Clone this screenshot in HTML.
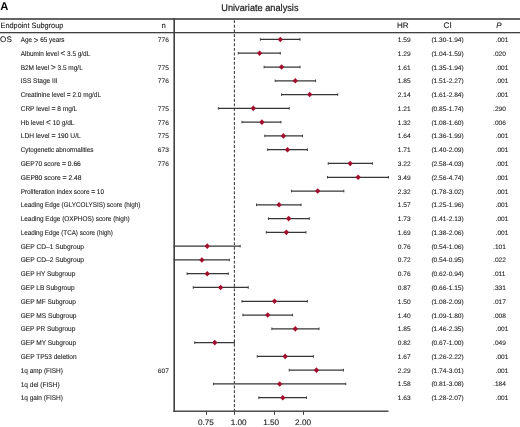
<!DOCTYPE html><html><head><meta charset="utf-8"><style>html,body{margin:0;padding:0;background:#fff;}svg{display:block;will-change:transform;}text{font-family:"Liberation Sans",sans-serif;text-rendering:geometricPrecision;}</style></head><body>
<svg width="520" height="427" viewBox="0 0 520 427">
<text x="0.2" y="9.9" font-size="11.2" font-weight="bold" fill="#000">A</text>
<text x="221.3" y="10.5" font-size="9.8" fill="#1a1a1a" stroke="#1a1a1a" stroke-width="0.2" textLength="77.2" lengthAdjust="spacingAndGlyphs">Univariate analysis</text>
<rect x="0" y="18.2" width="520" height="1.6" fill="#404040"/>
<rect x="0" y="32.0" width="520" height="1.3" fill="#404040"/>
<text x="0.5" y="28" font-size="7.7" fill="#222" stroke="#222" stroke-width="0.12" textLength="62.8" lengthAdjust="spacingAndGlyphs">Endpoint Subgroup</text>
<text x="161.4" y="28" font-size="7.7" fill="#222" stroke="#222" stroke-width="0.12">n</text>
<text x="397.0" y="28" font-size="8" fill="#222" stroke="#222" stroke-width="0.12">HR</text>
<text x="443.5" y="28" font-size="8.2" fill="#222" stroke="#222" stroke-width="0.12">CI</text>
<text x="496.3" y="28" font-size="8" font-style="italic" fill="#222" stroke="#222" stroke-width="0.12">P</text>
<text x="0.1" y="41.8" font-size="8.1" fill="#222" stroke="#222" stroke-width="0.12">OS</text>
<rect x="173.39999999999998" y="18.2" width="1.6" height="393.8" fill="#404040"/>
<line x1="234.4" y1="20.2" x2="234.4" y2="411.2" stroke="#404040" stroke-width="1.1" stroke-dasharray="2.8 1.825"/>
<rect x="173.39999999999998" y="410.5" width="215.10000000000002" height="1.4" fill="#404040"/>
<rect x="206" y="411.2" width="1" height="3.6" fill="#404040"/>
<text x="197.89999999999998" y="424.8" font-size="8" fill="#222" stroke="#222" stroke-width="0.12" textLength="16" lengthAdjust="spacingAndGlyphs">0.75</text>
<rect x="234" y="411.2" width="1" height="3.6" fill="#404040"/>
<text x="230.7" y="424.8" font-size="8" fill="#222" stroke="#222" stroke-width="0.12" textLength="16" lengthAdjust="spacingAndGlyphs">1.00</text>
<rect x="274" y="411.2" width="1" height="3.6" fill="#404040"/>
<text x="263.2" y="424.8" font-size="8" fill="#222" stroke="#222" stroke-width="0.12" textLength="16" lengthAdjust="spacingAndGlyphs">1.50</text>
<rect x="303" y="411.2" width="1" height="3.6" fill="#404040"/>
<text x="295.09999999999997" y="424.8" font-size="8" fill="#222" stroke="#222" stroke-width="0.12" textLength="16" lengthAdjust="spacingAndGlyphs">2.00</text>
<text x="20.7" y="42.00" font-size="6.9" fill="#222222" stroke="#222222" stroke-width="0.1" textLength="43.84" lengthAdjust="spacingAndGlyphs">Age <tspan font-size="8.6" dy="0.6">&gt;</tspan><tspan dy="-0.6"> 65 years</tspan></text>
<text x="168.9" y="41.95" font-size="6.4" fill="#222222" stroke="#222222" stroke-width="0.08" text-anchor="end" textLength="11.01" lengthAdjust="spacingAndGlyphs">776</text>
<text x="397.8" y="41.95" font-size="6.4" fill="#222222" stroke="#222222" stroke-width="0.08" text-anchor="start" textLength="12.84" lengthAdjust="spacingAndGlyphs">1.59</text>
<text x="431.4" y="41.95" font-size="6.4" fill="#222222" stroke="#222222" stroke-width="0.08" text-anchor="start" textLength="32.28" lengthAdjust="spacingAndGlyphs">(1.30-1.94)</text>
<text x="495.6" y="41.95" font-size="6.4" fill="#222222" stroke="#222222" stroke-width="0.08" text-anchor="start" textLength="12.84" lengthAdjust="spacingAndGlyphs">.001</text>
<line x1="260.37" y1="39.45" x2="300.01" y2="39.45" stroke="#363636" stroke-width="1.25"/>
<line x1="260.37" y1="38.15" x2="260.37" y2="40.75" stroke="#404040" stroke-width="1"/>
<line x1="300.01" y1="38.15" x2="300.01" y2="40.75" stroke="#404040" stroke-width="1"/>
<path d="M277.61 39.45 L280.31 36.65 L283.01 39.45 L280.31 42.25 Z" fill="#a3102f"/>
<text x="20.7" y="55.78" font-size="6.9" fill="#222222" stroke="#222222" stroke-width="0.1" textLength="69.56" lengthAdjust="spacingAndGlyphs">Albumin level <tspan font-size="8.6" dy="0.6">&lt;</tspan><tspan dy="-0.6"> 3.5 g/dL</tspan></text>
<text x="397.8" y="55.73" font-size="6.4" fill="#222222" stroke="#222222" stroke-width="0.08" text-anchor="start" textLength="12.84" lengthAdjust="spacingAndGlyphs">1.29</text>
<text x="431.4" y="55.73" font-size="6.4" fill="#222222" stroke="#222222" stroke-width="0.08" text-anchor="start" textLength="32.28" lengthAdjust="spacingAndGlyphs">(1.04-1.59)</text>
<text x="493.1" y="55.73" font-size="6.4" fill="#222222" stroke="#222222" stroke-width="0.08" text-anchor="start" textLength="12.84" lengthAdjust="spacingAndGlyphs">.020</text>
<line x1="238.28" y1="53.23" x2="280.31" y2="53.23" stroke="#363636" stroke-width="1.25"/>
<line x1="238.28" y1="51.93" x2="238.28" y2="54.53" stroke="#404040" stroke-width="1"/>
<line x1="280.31" y1="51.93" x2="280.31" y2="54.53" stroke="#404040" stroke-width="1"/>
<path d="M256.91 53.23 L259.61 50.43 L262.31 53.23 L259.61 56.03 Z" fill="#a3102f"/>
<text x="20.7" y="69.56" font-size="6.9" fill="#222222" stroke="#222222" stroke-width="0.1" textLength="62.07" lengthAdjust="spacingAndGlyphs">B2M level <tspan font-size="8.6" dy="0.6">&gt;</tspan><tspan dy="-0.6"> 3.5 mg/L</tspan></text>
<text x="168.9" y="69.51" font-size="6.4" fill="#222222" stroke="#222222" stroke-width="0.08" text-anchor="end" textLength="11.01" lengthAdjust="spacingAndGlyphs">775</text>
<text x="397.8" y="69.51" font-size="6.4" fill="#222222" stroke="#222222" stroke-width="0.08" text-anchor="start" textLength="12.84" lengthAdjust="spacingAndGlyphs">1.61</text>
<text x="431.4" y="69.51" font-size="6.4" fill="#222222" stroke="#222222" stroke-width="0.08" text-anchor="start" textLength="32.28" lengthAdjust="spacingAndGlyphs">(1.35-1.94)</text>
<text x="495.6" y="69.51" font-size="6.4" fill="#222222" stroke="#222222" stroke-width="0.08" text-anchor="start" textLength="12.84" lengthAdjust="spacingAndGlyphs">.001</text>
<line x1="264.11" y1="67.01" x2="300.01" y2="67.01" stroke="#363636" stroke-width="1.25"/>
<line x1="264.11" y1="65.71" x2="264.11" y2="68.31" stroke="#404040" stroke-width="1"/>
<line x1="300.01" y1="65.71" x2="300.01" y2="68.31" stroke="#404040" stroke-width="1"/>
<path d="M278.85 67.01 L281.55 64.21 L284.25 67.01 L281.55 69.81 Z" fill="#a3102f"/>
<text x="20.7" y="83.34" font-size="6.9" fill="#222222" stroke="#222222" stroke-width="0.1" textLength="36.85" lengthAdjust="spacingAndGlyphs">ISS Stage III</text>
<text x="168.9" y="83.29" font-size="6.4" fill="#222222" stroke="#222222" stroke-width="0.08" text-anchor="end" textLength="11.01" lengthAdjust="spacingAndGlyphs">776</text>
<text x="397.8" y="83.29" font-size="6.4" fill="#222222" stroke="#222222" stroke-width="0.08" text-anchor="start" textLength="12.84" lengthAdjust="spacingAndGlyphs">1.85</text>
<text x="431.4" y="83.29" font-size="6.4" fill="#222222" stroke="#222222" stroke-width="0.08" text-anchor="start" textLength="32.28" lengthAdjust="spacingAndGlyphs">(1.51-2.27)</text>
<text x="495.6" y="83.29" font-size="6.4" fill="#222222" stroke="#222222" stroke-width="0.08" text-anchor="start" textLength="12.84" lengthAdjust="spacingAndGlyphs">.001</text>
<line x1="275.20" y1="80.79" x2="315.56" y2="80.79" stroke="#363636" stroke-width="1.25"/>
<line x1="275.20" y1="79.49" x2="275.20" y2="82.09" stroke="#404040" stroke-width="1"/>
<line x1="315.56" y1="79.49" x2="315.56" y2="82.09" stroke="#404040" stroke-width="1"/>
<path d="M292.60 80.79 L295.30 77.99 L298.00 80.79 L295.30 83.59 Z" fill="#a3102f"/>
<text x="20.7" y="97.12" font-size="6.9" fill="#222222" stroke="#222222" stroke-width="0.1" textLength="80.30" lengthAdjust="spacingAndGlyphs">Creatinine level <tspan font-size="7.2" font-weight="bold">=</tspan> 2.0 mg/dL</text>
<text x="397.8" y="97.07" font-size="6.4" fill="#222222" stroke="#222222" stroke-width="0.08" text-anchor="start" textLength="12.84" lengthAdjust="spacingAndGlyphs">2.14</text>
<text x="431.4" y="97.07" font-size="6.4" fill="#222222" stroke="#222222" stroke-width="0.08" text-anchor="start" textLength="32.28" lengthAdjust="spacingAndGlyphs">(1.61-2.84)</text>
<text x="495.6" y="97.07" font-size="6.4" fill="#222222" stroke="#222222" stroke-width="0.08" text-anchor="start" textLength="12.84" lengthAdjust="spacingAndGlyphs">.001</text>
<line x1="281.55" y1="94.57" x2="337.74" y2="94.57" stroke="#363636" stroke-width="1.25"/>
<line x1="281.55" y1="93.27" x2="281.55" y2="95.87" stroke="#404040" stroke-width="1"/>
<line x1="337.74" y1="93.27" x2="337.74" y2="95.87" stroke="#404040" stroke-width="1"/>
<path d="M307.02 94.57 L309.72 91.77 L312.42 94.57 L309.72 97.37 Z" fill="#a3102f"/>
<text x="20.7" y="110.90" font-size="6.9" fill="#222222" stroke="#222222" stroke-width="0.1" textLength="56.52" lengthAdjust="spacingAndGlyphs">CRP level <tspan font-size="7.2" font-weight="bold">=</tspan> 8 mg/L</text>
<text x="168.9" y="110.85" font-size="6.4" fill="#222222" stroke="#222222" stroke-width="0.08" text-anchor="end" textLength="11.01" lengthAdjust="spacingAndGlyphs">775</text>
<text x="397.8" y="110.85" font-size="6.4" fill="#222222" stroke="#222222" stroke-width="0.08" text-anchor="start" textLength="12.84" lengthAdjust="spacingAndGlyphs">1.21</text>
<text x="431.4" y="110.85" font-size="6.4" fill="#222222" stroke="#222222" stroke-width="0.08" text-anchor="start" textLength="32.28" lengthAdjust="spacingAndGlyphs">(0.85-1.74)</text>
<text x="493.1" y="110.85" font-size="6.4" fill="#222222" stroke="#222222" stroke-width="0.08" text-anchor="start" textLength="12.84" lengthAdjust="spacingAndGlyphs">.290</text>
<line x1="218.31" y1="108.35" x2="289.23" y2="108.35" stroke="#363636" stroke-width="1.25"/>
<line x1="218.31" y1="107.05" x2="218.31" y2="109.65" stroke="#404040" stroke-width="1"/>
<line x1="289.23" y1="107.05" x2="289.23" y2="109.65" stroke="#404040" stroke-width="1"/>
<path d="M250.57 108.35 L253.27 105.55 L255.97 108.35 L253.27 111.15 Z" fill="#a3102f"/>
<text x="20.7" y="124.68" font-size="6.9" fill="#222222" stroke="#222222" stroke-width="0.1" textLength="53.81" lengthAdjust="spacingAndGlyphs">Hb level <tspan font-size="8.6" dy="0.6">&lt;</tspan><tspan dy="-0.6"> 10 g/dL</tspan></text>
<text x="168.9" y="124.63" font-size="6.4" fill="#222222" stroke="#222222" stroke-width="0.08" text-anchor="end" textLength="11.01" lengthAdjust="spacingAndGlyphs">776</text>
<text x="397.8" y="124.63" font-size="6.4" fill="#222222" stroke="#222222" stroke-width="0.08" text-anchor="start" textLength="12.84" lengthAdjust="spacingAndGlyphs">1.32</text>
<text x="431.4" y="124.63" font-size="6.4" fill="#222222" stroke="#222222" stroke-width="0.08" text-anchor="start" textLength="32.28" lengthAdjust="spacingAndGlyphs">(1.08-1.60)</text>
<text x="493.1" y="124.63" font-size="6.4" fill="#222222" stroke="#222222" stroke-width="0.08" text-anchor="start" textLength="12.84" lengthAdjust="spacingAndGlyphs">.006</text>
<line x1="242.02" y1="122.13" x2="280.93" y2="122.13" stroke="#363636" stroke-width="1.25"/>
<line x1="242.02" y1="120.83" x2="242.02" y2="123.43" stroke="#404040" stroke-width="1"/>
<line x1="280.93" y1="120.83" x2="280.93" y2="123.43" stroke="#404040" stroke-width="1"/>
<path d="M259.19 122.13 L261.89 119.33 L264.59 122.13 L261.89 124.93 Z" fill="#a3102f"/>
<text x="20.7" y="138.46" font-size="6.9" fill="#222222" stroke="#222222" stroke-width="0.1" textLength="60.05" lengthAdjust="spacingAndGlyphs">LDH level <tspan font-size="7.2" font-weight="bold">=</tspan> 190 U/L</text>
<text x="168.9" y="138.41" font-size="6.4" fill="#222222" stroke="#222222" stroke-width="0.08" text-anchor="end" textLength="11.01" lengthAdjust="spacingAndGlyphs">775</text>
<text x="397.8" y="138.41" font-size="6.4" fill="#222222" stroke="#222222" stroke-width="0.08" text-anchor="start" textLength="12.84" lengthAdjust="spacingAndGlyphs">1.64</text>
<text x="431.4" y="138.41" font-size="6.4" fill="#222222" stroke="#222222" stroke-width="0.08" text-anchor="start" textLength="32.28" lengthAdjust="spacingAndGlyphs">(1.36-1.99)</text>
<text x="495.6" y="138.41" font-size="6.4" fill="#222222" stroke="#222222" stroke-width="0.08" text-anchor="start" textLength="12.84" lengthAdjust="spacingAndGlyphs">.001</text>
<line x1="264.84" y1="135.91" x2="302.53" y2="135.91" stroke="#363636" stroke-width="1.25"/>
<line x1="264.84" y1="134.61" x2="264.84" y2="137.21" stroke="#404040" stroke-width="1"/>
<line x1="302.53" y1="134.61" x2="302.53" y2="137.21" stroke="#404040" stroke-width="1"/>
<path d="M280.67 135.91 L283.37 133.11 L286.07 135.91 L283.37 138.71 Z" fill="#a3102f"/>
<text x="20.7" y="152.24" font-size="6.9" fill="#222222" stroke="#222222" stroke-width="0.1" textLength="72.77" lengthAdjust="spacingAndGlyphs">Cytogenetic abnormalities</text>
<text x="168.9" y="152.19" font-size="6.4" fill="#222222" stroke="#222222" stroke-width="0.08" text-anchor="end" textLength="11.01" lengthAdjust="spacingAndGlyphs">673</text>
<text x="397.8" y="152.19" font-size="6.4" fill="#222222" stroke="#222222" stroke-width="0.08" text-anchor="start" textLength="12.84" lengthAdjust="spacingAndGlyphs">1.71</text>
<text x="431.4" y="152.19" font-size="6.4" fill="#222222" stroke="#222222" stroke-width="0.08" text-anchor="start" textLength="32.28" lengthAdjust="spacingAndGlyphs">(1.40-2.09)</text>
<text x="495.6" y="152.19" font-size="6.4" fill="#222222" stroke="#222222" stroke-width="0.08" text-anchor="start" textLength="12.84" lengthAdjust="spacingAndGlyphs">.001</text>
<line x1="267.71" y1="149.69" x2="307.38" y2="149.69" stroke="#363636" stroke-width="1.25"/>
<line x1="267.71" y1="148.39" x2="267.71" y2="150.99" stroke="#404040" stroke-width="1"/>
<line x1="307.38" y1="148.39" x2="307.38" y2="150.99" stroke="#404040" stroke-width="1"/>
<path d="M284.81 149.69 L287.51 146.89 L290.21 149.69 L287.51 152.49 Z" fill="#a3102f"/>
<text x="20.7" y="166.02" font-size="6.9" fill="#222222" stroke="#222222" stroke-width="0.1" textLength="60.08" lengthAdjust="spacingAndGlyphs">GEP70 score <tspan font-size="7.2" font-weight="bold">=</tspan> 0.66</text>
<text x="168.9" y="165.97" font-size="6.4" fill="#222222" stroke="#222222" stroke-width="0.08" text-anchor="end" textLength="11.01" lengthAdjust="spacingAndGlyphs">776</text>
<text x="397.8" y="165.97" font-size="6.4" fill="#222222" stroke="#222222" stroke-width="0.08" text-anchor="start" textLength="12.84" lengthAdjust="spacingAndGlyphs">3.22</text>
<text x="431.4" y="165.97" font-size="6.4" fill="#222222" stroke="#222222" stroke-width="0.08" text-anchor="start" textLength="32.28" lengthAdjust="spacingAndGlyphs">(2.58-4.03)</text>
<text x="495.6" y="165.97" font-size="6.4" fill="#222222" stroke="#222222" stroke-width="0.08" text-anchor="start" textLength="12.84" lengthAdjust="spacingAndGlyphs">.001</text>
<line x1="328.23" y1="163.47" x2="372.38" y2="163.47" stroke="#363636" stroke-width="1.25"/>
<line x1="328.23" y1="162.17" x2="328.23" y2="164.77" stroke="#404040" stroke-width="1"/>
<line x1="372.38" y1="162.17" x2="372.38" y2="164.77" stroke="#404040" stroke-width="1"/>
<path d="M347.47 163.47 L350.17 160.67 L352.87 163.47 L350.17 166.27 Z" fill="#a3102f"/>
<text x="20.7" y="179.80" font-size="6.9" fill="#222222" stroke="#222222" stroke-width="0.1" textLength="60.84" lengthAdjust="spacingAndGlyphs">GEP80 score <tspan font-size="7.2" font-weight="bold">=</tspan> 2.48</text>
<text x="397.8" y="179.75" font-size="6.4" fill="#222222" stroke="#222222" stroke-width="0.08" text-anchor="start" textLength="12.84" lengthAdjust="spacingAndGlyphs">3.49</text>
<text x="431.4" y="179.75" font-size="6.4" fill="#222222" stroke="#222222" stroke-width="0.08" text-anchor="start" textLength="32.28" lengthAdjust="spacingAndGlyphs">(2.56-4.74)</text>
<text x="495.6" y="179.75" font-size="6.4" fill="#222222" stroke="#222222" stroke-width="0.08" text-anchor="start" textLength="12.84" lengthAdjust="spacingAndGlyphs">.001</text>
<line x1="327.46" y1="177.25" x2="388.45" y2="177.25" stroke="#363636" stroke-width="1.25"/>
<line x1="327.46" y1="175.95" x2="327.46" y2="178.55" stroke="#404040" stroke-width="1"/>
<line x1="388.45" y1="175.95" x2="388.45" y2="178.55" stroke="#404040" stroke-width="1"/>
<path d="M355.44 177.25 L358.14 174.45 L360.84 177.25 L358.14 180.05 Z" fill="#a3102f"/>
<text x="20.7" y="193.58" font-size="6.9" fill="#222222" stroke="#222222" stroke-width="0.1" textLength="83.27" lengthAdjust="spacingAndGlyphs">Proliferation Index score <tspan font-size="7.2" font-weight="bold">=</tspan> 10</text>
<text x="397.8" y="193.53" font-size="6.4" fill="#222222" stroke="#222222" stroke-width="0.08" text-anchor="start" textLength="12.84" lengthAdjust="spacingAndGlyphs">2.32</text>
<text x="431.4" y="193.53" font-size="6.4" fill="#222222" stroke="#222222" stroke-width="0.08" text-anchor="start" textLength="32.28" lengthAdjust="spacingAndGlyphs">(1.78-3.02)</text>
<text x="495.6" y="193.53" font-size="6.4" fill="#222222" stroke="#222222" stroke-width="0.08" text-anchor="start" textLength="12.84" lengthAdjust="spacingAndGlyphs">.001</text>
<line x1="291.48" y1="191.03" x2="343.82" y2="191.03" stroke="#363636" stroke-width="1.25"/>
<line x1="291.48" y1="189.73" x2="291.48" y2="192.33" stroke="#404040" stroke-width="1"/>
<line x1="343.82" y1="189.73" x2="343.82" y2="192.33" stroke="#404040" stroke-width="1"/>
<path d="M315.02 191.03 L317.72 188.23 L320.42 191.03 L317.72 193.83 Z" fill="#a3102f"/>
<text x="20.7" y="207.36" font-size="6.9" fill="#222222" stroke="#222222" stroke-width="0.1" textLength="119.68" lengthAdjust="spacingAndGlyphs">Leading Edge (GLYCOLYSIS) score (high)</text>
<text x="397.8" y="207.31" font-size="6.4" fill="#222222" stroke="#222222" stroke-width="0.08" text-anchor="start" textLength="12.84" lengthAdjust="spacingAndGlyphs">1.57</text>
<text x="431.4" y="207.31" font-size="6.4" fill="#222222" stroke="#222222" stroke-width="0.08" text-anchor="start" textLength="32.28" lengthAdjust="spacingAndGlyphs">(1.25-1.96)</text>
<text x="495.6" y="207.31" font-size="6.4" fill="#222222" stroke="#222222" stroke-width="0.08" text-anchor="start" textLength="12.84" lengthAdjust="spacingAndGlyphs">.001</text>
<line x1="256.49" y1="204.81" x2="301.02" y2="204.81" stroke="#363636" stroke-width="1.25"/>
<line x1="256.49" y1="203.51" x2="256.49" y2="206.11" stroke="#404040" stroke-width="1"/>
<line x1="301.02" y1="203.51" x2="301.02" y2="206.11" stroke="#404040" stroke-width="1"/>
<path d="M276.36 204.81 L279.06 202.01 L281.76 204.81 L279.06 207.61 Z" fill="#a3102f"/>
<text x="20.7" y="221.14" font-size="6.9" fill="#222222" stroke="#222222" stroke-width="0.1" textLength="108.95" lengthAdjust="spacingAndGlyphs">Leading Edge (OXPHOS) score (high)</text>
<text x="397.8" y="221.09" font-size="6.4" fill="#222222" stroke="#222222" stroke-width="0.08" text-anchor="start" textLength="12.84" lengthAdjust="spacingAndGlyphs">1.73</text>
<text x="431.4" y="221.09" font-size="6.4" fill="#222222" stroke="#222222" stroke-width="0.08" text-anchor="start" textLength="32.28" lengthAdjust="spacingAndGlyphs">(1.41-2.13)</text>
<text x="495.6" y="221.09" font-size="6.4" fill="#222222" stroke="#222222" stroke-width="0.08" text-anchor="start" textLength="12.84" lengthAdjust="spacingAndGlyphs">.001</text>
<line x1="268.42" y1="218.59" x2="309.26" y2="218.59" stroke="#363636" stroke-width="1.25"/>
<line x1="268.42" y1="217.29" x2="268.42" y2="219.89" stroke="#404040" stroke-width="1"/>
<line x1="309.26" y1="217.29" x2="309.26" y2="219.89" stroke="#404040" stroke-width="1"/>
<path d="M285.96 218.59 L288.66 215.79 L291.36 218.59 L288.66 221.39 Z" fill="#a3102f"/>
<text x="20.7" y="234.92" font-size="6.9" fill="#222222" stroke="#222222" stroke-width="0.1" textLength="92.19" lengthAdjust="spacingAndGlyphs">Leading Edge (TCA) score (high)</text>
<text x="397.8" y="234.87" font-size="6.4" fill="#222222" stroke="#222222" stroke-width="0.08" text-anchor="start" textLength="12.84" lengthAdjust="spacingAndGlyphs">1.69</text>
<text x="431.4" y="234.87" font-size="6.4" fill="#222222" stroke="#222222" stroke-width="0.08" text-anchor="start" textLength="32.28" lengthAdjust="spacingAndGlyphs">(1.38-2.06)</text>
<text x="495.6" y="234.87" font-size="6.4" fill="#222222" stroke="#222222" stroke-width="0.08" text-anchor="start" textLength="12.84" lengthAdjust="spacingAndGlyphs">.001</text>
<line x1="266.29" y1="232.37" x2="305.95" y2="232.37" stroke="#363636" stroke-width="1.25"/>
<line x1="266.29" y1="231.07" x2="266.29" y2="233.67" stroke="#404040" stroke-width="1"/>
<line x1="305.95" y1="231.07" x2="305.95" y2="233.67" stroke="#404040" stroke-width="1"/>
<path d="M283.65 232.37 L286.35 229.57 L289.05 232.37 L286.35 235.17 Z" fill="#a3102f"/>
<text x="20.7" y="248.70" font-size="6.9" fill="#222222" stroke="#222222" stroke-width="0.1" textLength="63.33" lengthAdjust="spacingAndGlyphs">GEP CD–1 Subgroup</text>
<text x="397.8" y="248.65" font-size="6.4" fill="#222222" stroke="#222222" stroke-width="0.08" text-anchor="start" textLength="12.84" lengthAdjust="spacingAndGlyphs">0.76</text>
<text x="431.4" y="248.65" font-size="6.4" fill="#222222" stroke="#222222" stroke-width="0.08" text-anchor="start" textLength="32.28" lengthAdjust="spacingAndGlyphs">(0.54-1.06)</text>
<text x="493.1" y="248.65" font-size="6.4" fill="#222222" stroke="#222222" stroke-width="0.08" text-anchor="start" textLength="12.84" lengthAdjust="spacingAndGlyphs">.101</text>
<line x1="174.20" y1="246.15" x2="240.17" y2="246.15" stroke="#363636" stroke-width="1.25"/>
<line x1="174.20" y1="244.85" x2="174.20" y2="247.45" stroke="#404040" stroke-width="1"/>
<line x1="240.17" y1="244.85" x2="240.17" y2="247.45" stroke="#404040" stroke-width="1"/>
<path d="M204.53 246.15 L207.23 243.35 L209.93 246.15 L207.23 248.95 Z" fill="#a3102f"/>
<text x="20.7" y="262.48" font-size="6.9" fill="#222222" stroke="#222222" stroke-width="0.1" textLength="63.33" lengthAdjust="spacingAndGlyphs">GEP CD–2 Subgroup</text>
<text x="397.8" y="262.43" font-size="6.4" fill="#222222" stroke="#222222" stroke-width="0.08" text-anchor="start" textLength="12.84" lengthAdjust="spacingAndGlyphs">0.72</text>
<text x="431.4" y="262.43" font-size="6.4" fill="#222222" stroke="#222222" stroke-width="0.08" text-anchor="start" textLength="32.28" lengthAdjust="spacingAndGlyphs">(0.54-0.95)</text>
<text x="493.1" y="262.43" font-size="6.4" fill="#222222" stroke="#222222" stroke-width="0.08" text-anchor="start" textLength="12.84" lengthAdjust="spacingAndGlyphs">.022</text>
<line x1="174.20" y1="259.93" x2="229.32" y2="259.93" stroke="#363636" stroke-width="1.25"/>
<line x1="174.20" y1="258.63" x2="174.20" y2="261.23" stroke="#404040" stroke-width="1"/>
<line x1="229.32" y1="258.63" x2="229.32" y2="261.23" stroke="#404040" stroke-width="1"/>
<path d="M199.18 259.93 L201.88 257.13 L204.58 259.93 L201.88 262.73 Z" fill="#a3102f"/>
<text x="20.7" y="276.26" font-size="6.9" fill="#222222" stroke="#222222" stroke-width="0.1" textLength="54.61" lengthAdjust="spacingAndGlyphs">GEP HY Subgroup</text>
<text x="397.8" y="276.21" font-size="6.4" fill="#222222" stroke="#222222" stroke-width="0.08" text-anchor="start" textLength="12.84" lengthAdjust="spacingAndGlyphs">0.76</text>
<text x="431.4" y="276.21" font-size="6.4" fill="#222222" stroke="#222222" stroke-width="0.08" text-anchor="start" textLength="32.28" lengthAdjust="spacingAndGlyphs">(0.62-0.94)</text>
<text x="493.1" y="276.21" font-size="6.4" fill="#222222" stroke="#222222" stroke-width="0.08" text-anchor="start" textLength="12.35" lengthAdjust="spacingAndGlyphs">.011</text>
<line x1="187.07" y1="273.71" x2="228.27" y2="273.71" stroke="#363636" stroke-width="1.25"/>
<line x1="187.07" y1="272.41" x2="187.07" y2="275.01" stroke="#404040" stroke-width="1"/>
<line x1="228.27" y1="272.41" x2="228.27" y2="275.01" stroke="#404040" stroke-width="1"/>
<path d="M204.53 273.71 L207.23 270.91 L209.93 273.71 L207.23 276.51 Z" fill="#a3102f"/>
<text x="20.7" y="290.04" font-size="6.9" fill="#222222" stroke="#222222" stroke-width="0.1" textLength="53.87" lengthAdjust="spacingAndGlyphs">GEP LB Subgroup</text>
<text x="397.8" y="289.99" font-size="6.4" fill="#222222" stroke="#222222" stroke-width="0.08" text-anchor="start" textLength="12.84" lengthAdjust="spacingAndGlyphs">0.87</text>
<text x="431.4" y="289.99" font-size="6.4" fill="#222222" stroke="#222222" stroke-width="0.08" text-anchor="start" textLength="32.28" lengthAdjust="spacingAndGlyphs">(0.66-1.15)</text>
<text x="493.1" y="289.99" font-size="6.4" fill="#222222" stroke="#222222" stroke-width="0.08" text-anchor="start" textLength="12.84" lengthAdjust="spacingAndGlyphs">.331</text>
<line x1="193.26" y1="287.49" x2="248.24" y2="287.49" stroke="#363636" stroke-width="1.25"/>
<line x1="193.26" y1="286.19" x2="193.26" y2="288.79" stroke="#404040" stroke-width="1"/>
<line x1="248.24" y1="286.19" x2="248.24" y2="288.79" stroke="#404040" stroke-width="1"/>
<path d="M217.91 287.49 L220.61 284.69 L223.31 287.49 L220.61 290.29 Z" fill="#a3102f"/>
<text x="20.7" y="303.82" font-size="6.9" fill="#222222" stroke="#222222" stroke-width="0.1" textLength="55.12" lengthAdjust="spacingAndGlyphs">GEP MF Subgroup</text>
<text x="397.8" y="303.77" font-size="6.4" fill="#222222" stroke="#222222" stroke-width="0.08" text-anchor="start" textLength="12.84" lengthAdjust="spacingAndGlyphs">1.50</text>
<text x="431.4" y="303.77" font-size="6.4" fill="#222222" stroke="#222222" stroke-width="0.08" text-anchor="start" textLength="32.28" lengthAdjust="spacingAndGlyphs">(1.08-2.09)</text>
<text x="493.1" y="303.77" font-size="6.4" fill="#222222" stroke="#222222" stroke-width="0.08" text-anchor="start" textLength="12.84" lengthAdjust="spacingAndGlyphs">.017</text>
<line x1="242.02" y1="301.27" x2="307.38" y2="301.27" stroke="#363636" stroke-width="1.25"/>
<line x1="242.02" y1="299.97" x2="242.02" y2="302.57" stroke="#404040" stroke-width="1"/>
<line x1="307.38" y1="299.97" x2="307.38" y2="302.57" stroke="#404040" stroke-width="1"/>
<path d="M271.84 301.27 L274.54 298.47 L277.24 301.27 L274.54 304.07 Z" fill="#a3102f"/>
<text x="20.7" y="317.60" font-size="6.9" fill="#222222" stroke="#222222" stroke-width="0.1" textLength="55.85" lengthAdjust="spacingAndGlyphs">GEP MS Subgroup</text>
<text x="397.8" y="317.55" font-size="6.4" fill="#222222" stroke="#222222" stroke-width="0.08" text-anchor="start" textLength="12.84" lengthAdjust="spacingAndGlyphs">1.40</text>
<text x="431.4" y="317.55" font-size="6.4" fill="#222222" stroke="#222222" stroke-width="0.08" text-anchor="start" textLength="32.28" lengthAdjust="spacingAndGlyphs">(1.09-1.80)</text>
<text x="493.1" y="317.55" font-size="6.4" fill="#222222" stroke="#222222" stroke-width="0.08" text-anchor="start" textLength="12.84" lengthAdjust="spacingAndGlyphs">.008</text>
<line x1="242.93" y1="315.05" x2="292.59" y2="315.05" stroke="#363636" stroke-width="1.25"/>
<line x1="242.93" y1="313.75" x2="242.93" y2="316.35" stroke="#404040" stroke-width="1"/>
<line x1="292.59" y1="313.75" x2="292.59" y2="316.35" stroke="#404040" stroke-width="1"/>
<path d="M265.01 315.05 L267.71 312.25 L270.41 315.05 L267.71 317.85 Z" fill="#a3102f"/>
<text x="20.7" y="331.38" font-size="6.9" fill="#222222" stroke="#222222" stroke-width="0.1" textLength="54.59" lengthAdjust="spacingAndGlyphs">GEP PR Subgroup</text>
<text x="397.8" y="331.33" font-size="6.4" fill="#222222" stroke="#222222" stroke-width="0.08" text-anchor="start" textLength="12.84" lengthAdjust="spacingAndGlyphs">1.85</text>
<text x="431.4" y="331.33" font-size="6.4" fill="#222222" stroke="#222222" stroke-width="0.08" text-anchor="start" textLength="32.28" lengthAdjust="spacingAndGlyphs">(1.46-2.35)</text>
<text x="495.6" y="331.33" font-size="6.4" fill="#222222" stroke="#222222" stroke-width="0.08" text-anchor="start" textLength="12.84" lengthAdjust="spacingAndGlyphs">.001</text>
<line x1="271.87" y1="328.83" x2="318.99" y2="328.83" stroke="#363636" stroke-width="1.25"/>
<line x1="271.87" y1="327.53" x2="271.87" y2="330.13" stroke="#404040" stroke-width="1"/>
<line x1="318.99" y1="327.53" x2="318.99" y2="330.13" stroke="#404040" stroke-width="1"/>
<path d="M292.60 328.83 L295.30 326.03 L298.00 328.83 L295.30 331.63 Z" fill="#a3102f"/>
<text x="20.7" y="345.16" font-size="6.9" fill="#222222" stroke="#222222" stroke-width="0.1" textLength="55.36" lengthAdjust="spacingAndGlyphs">GEP MY Subgroup</text>
<text x="397.8" y="345.11" font-size="6.4" fill="#222222" stroke="#222222" stroke-width="0.08" text-anchor="start" textLength="12.84" lengthAdjust="spacingAndGlyphs">0.82</text>
<text x="431.4" y="345.11" font-size="6.4" fill="#222222" stroke="#222222" stroke-width="0.08" text-anchor="start" textLength="32.28" lengthAdjust="spacingAndGlyphs">(0.67-1.00)</text>
<text x="493.1" y="345.11" font-size="6.4" fill="#222222" stroke="#222222" stroke-width="0.08" text-anchor="start" textLength="12.84" lengthAdjust="spacingAndGlyphs">.049</text>
<line x1="194.75" y1="342.61" x2="234.40" y2="342.61" stroke="#363636" stroke-width="1.25"/>
<line x1="194.75" y1="341.31" x2="194.75" y2="343.91" stroke="#404040" stroke-width="1"/>
<line x1="234.40" y1="341.31" x2="234.40" y2="343.91" stroke="#404040" stroke-width="1"/>
<path d="M212.05 342.61 L214.75 339.81 L217.45 342.61 L214.75 345.41 Z" fill="#a3102f"/>
<text x="20.7" y="358.94" font-size="6.9" fill="#222222" stroke="#222222" stroke-width="0.1" textLength="55.97" lengthAdjust="spacingAndGlyphs">GEP TP53 deletion</text>
<text x="397.8" y="358.89" font-size="6.4" fill="#222222" stroke="#222222" stroke-width="0.08" text-anchor="start" textLength="12.84" lengthAdjust="spacingAndGlyphs">1.67</text>
<text x="431.4" y="358.89" font-size="6.4" fill="#222222" stroke="#222222" stroke-width="0.08" text-anchor="start" textLength="32.28" lengthAdjust="spacingAndGlyphs">(1.26-2.22)</text>
<text x="495.6" y="358.89" font-size="6.4" fill="#222222" stroke="#222222" stroke-width="0.08" text-anchor="start" textLength="12.84" lengthAdjust="spacingAndGlyphs">.001</text>
<line x1="257.28" y1="356.39" x2="313.35" y2="356.39" stroke="#363636" stroke-width="1.25"/>
<line x1="257.28" y1="355.09" x2="257.28" y2="357.69" stroke="#404040" stroke-width="1"/>
<line x1="313.35" y1="355.09" x2="313.35" y2="357.69" stroke="#404040" stroke-width="1"/>
<path d="M282.47 356.39 L285.17 353.59 L287.87 356.39 L285.17 359.19 Z" fill="#a3102f"/>
<text x="20.7" y="372.72" font-size="6.9" fill="#222222" stroke="#222222" stroke-width="0.1" textLength="42.23" lengthAdjust="spacingAndGlyphs">1q amp (FISH)</text>
<text x="168.9" y="372.67" font-size="6.4" fill="#222222" stroke="#222222" stroke-width="0.08" text-anchor="end" textLength="11.01" lengthAdjust="spacingAndGlyphs">607</text>
<text x="397.8" y="372.67" font-size="6.4" fill="#222222" stroke="#222222" stroke-width="0.08" text-anchor="start" textLength="12.84" lengthAdjust="spacingAndGlyphs">2.29</text>
<text x="431.4" y="372.67" font-size="6.4" fill="#222222" stroke="#222222" stroke-width="0.08" text-anchor="start" textLength="32.28" lengthAdjust="spacingAndGlyphs">(1.74-3.01)</text>
<text x="495.6" y="372.67" font-size="6.4" fill="#222222" stroke="#222222" stroke-width="0.08" text-anchor="start" textLength="12.84" lengthAdjust="spacingAndGlyphs">.001</text>
<line x1="289.23" y1="370.17" x2="343.49" y2="370.17" stroke="#363636" stroke-width="1.25"/>
<line x1="289.23" y1="368.87" x2="289.23" y2="371.47" stroke="#404040" stroke-width="1"/>
<line x1="343.49" y1="368.87" x2="343.49" y2="371.47" stroke="#404040" stroke-width="1"/>
<path d="M313.73 370.17 L316.43 367.37 L319.13 370.17 L316.43 372.97 Z" fill="#a3102f"/>
<text x="20.7" y="386.50" font-size="6.9" fill="#222222" stroke="#222222" stroke-width="0.1" textLength="38.98" lengthAdjust="spacingAndGlyphs">1q del (FISH)</text>
<text x="397.8" y="386.45" font-size="6.4" fill="#222222" stroke="#222222" stroke-width="0.08" text-anchor="start" textLength="12.84" lengthAdjust="spacingAndGlyphs">1.58</text>
<text x="431.4" y="386.45" font-size="6.4" fill="#222222" stroke="#222222" stroke-width="0.08" text-anchor="start" textLength="32.28" lengthAdjust="spacingAndGlyphs">(0.81-3.08)</text>
<text x="493.1" y="386.45" font-size="6.4" fill="#222222" stroke="#222222" stroke-width="0.08" text-anchor="start" textLength="12.84" lengthAdjust="spacingAndGlyphs">.184</text>
<line x1="213.54" y1="383.95" x2="345.77" y2="383.95" stroke="#363636" stroke-width="1.25"/>
<line x1="213.54" y1="382.65" x2="213.54" y2="385.25" stroke="#404040" stroke-width="1"/>
<line x1="345.77" y1="382.65" x2="345.77" y2="385.25" stroke="#404040" stroke-width="1"/>
<path d="M276.99 383.95 L279.69 381.15 L282.39 383.95 L279.69 386.75 Z" fill="#a3102f"/>
<text x="20.7" y="400.28" font-size="6.9" fill="#222222" stroke="#222222" stroke-width="0.1" textLength="42.20" lengthAdjust="spacingAndGlyphs">1q gain (FISH)</text>
<text x="397.8" y="400.23" font-size="6.4" fill="#222222" stroke="#222222" stroke-width="0.08" text-anchor="start" textLength="12.84" lengthAdjust="spacingAndGlyphs">1.63</text>
<text x="431.4" y="400.23" font-size="6.4" fill="#222222" stroke="#222222" stroke-width="0.08" text-anchor="start" textLength="32.28" lengthAdjust="spacingAndGlyphs">(1.28-2.07)</text>
<text x="495.6" y="400.23" font-size="6.4" fill="#222222" stroke="#222222" stroke-width="0.08" text-anchor="start" textLength="12.84" lengthAdjust="spacingAndGlyphs">.001</text>
<line x1="258.84" y1="397.73" x2="306.43" y2="397.73" stroke="#363636" stroke-width="1.25"/>
<line x1="258.84" y1="396.43" x2="258.84" y2="399.03" stroke="#404040" stroke-width="1"/>
<line x1="306.43" y1="396.43" x2="306.43" y2="399.03" stroke="#404040" stroke-width="1"/>
<path d="M280.07 397.73 L282.77 394.93 L285.47 397.73 L282.77 400.53 Z" fill="#a3102f"/>
</svg></body></html>
